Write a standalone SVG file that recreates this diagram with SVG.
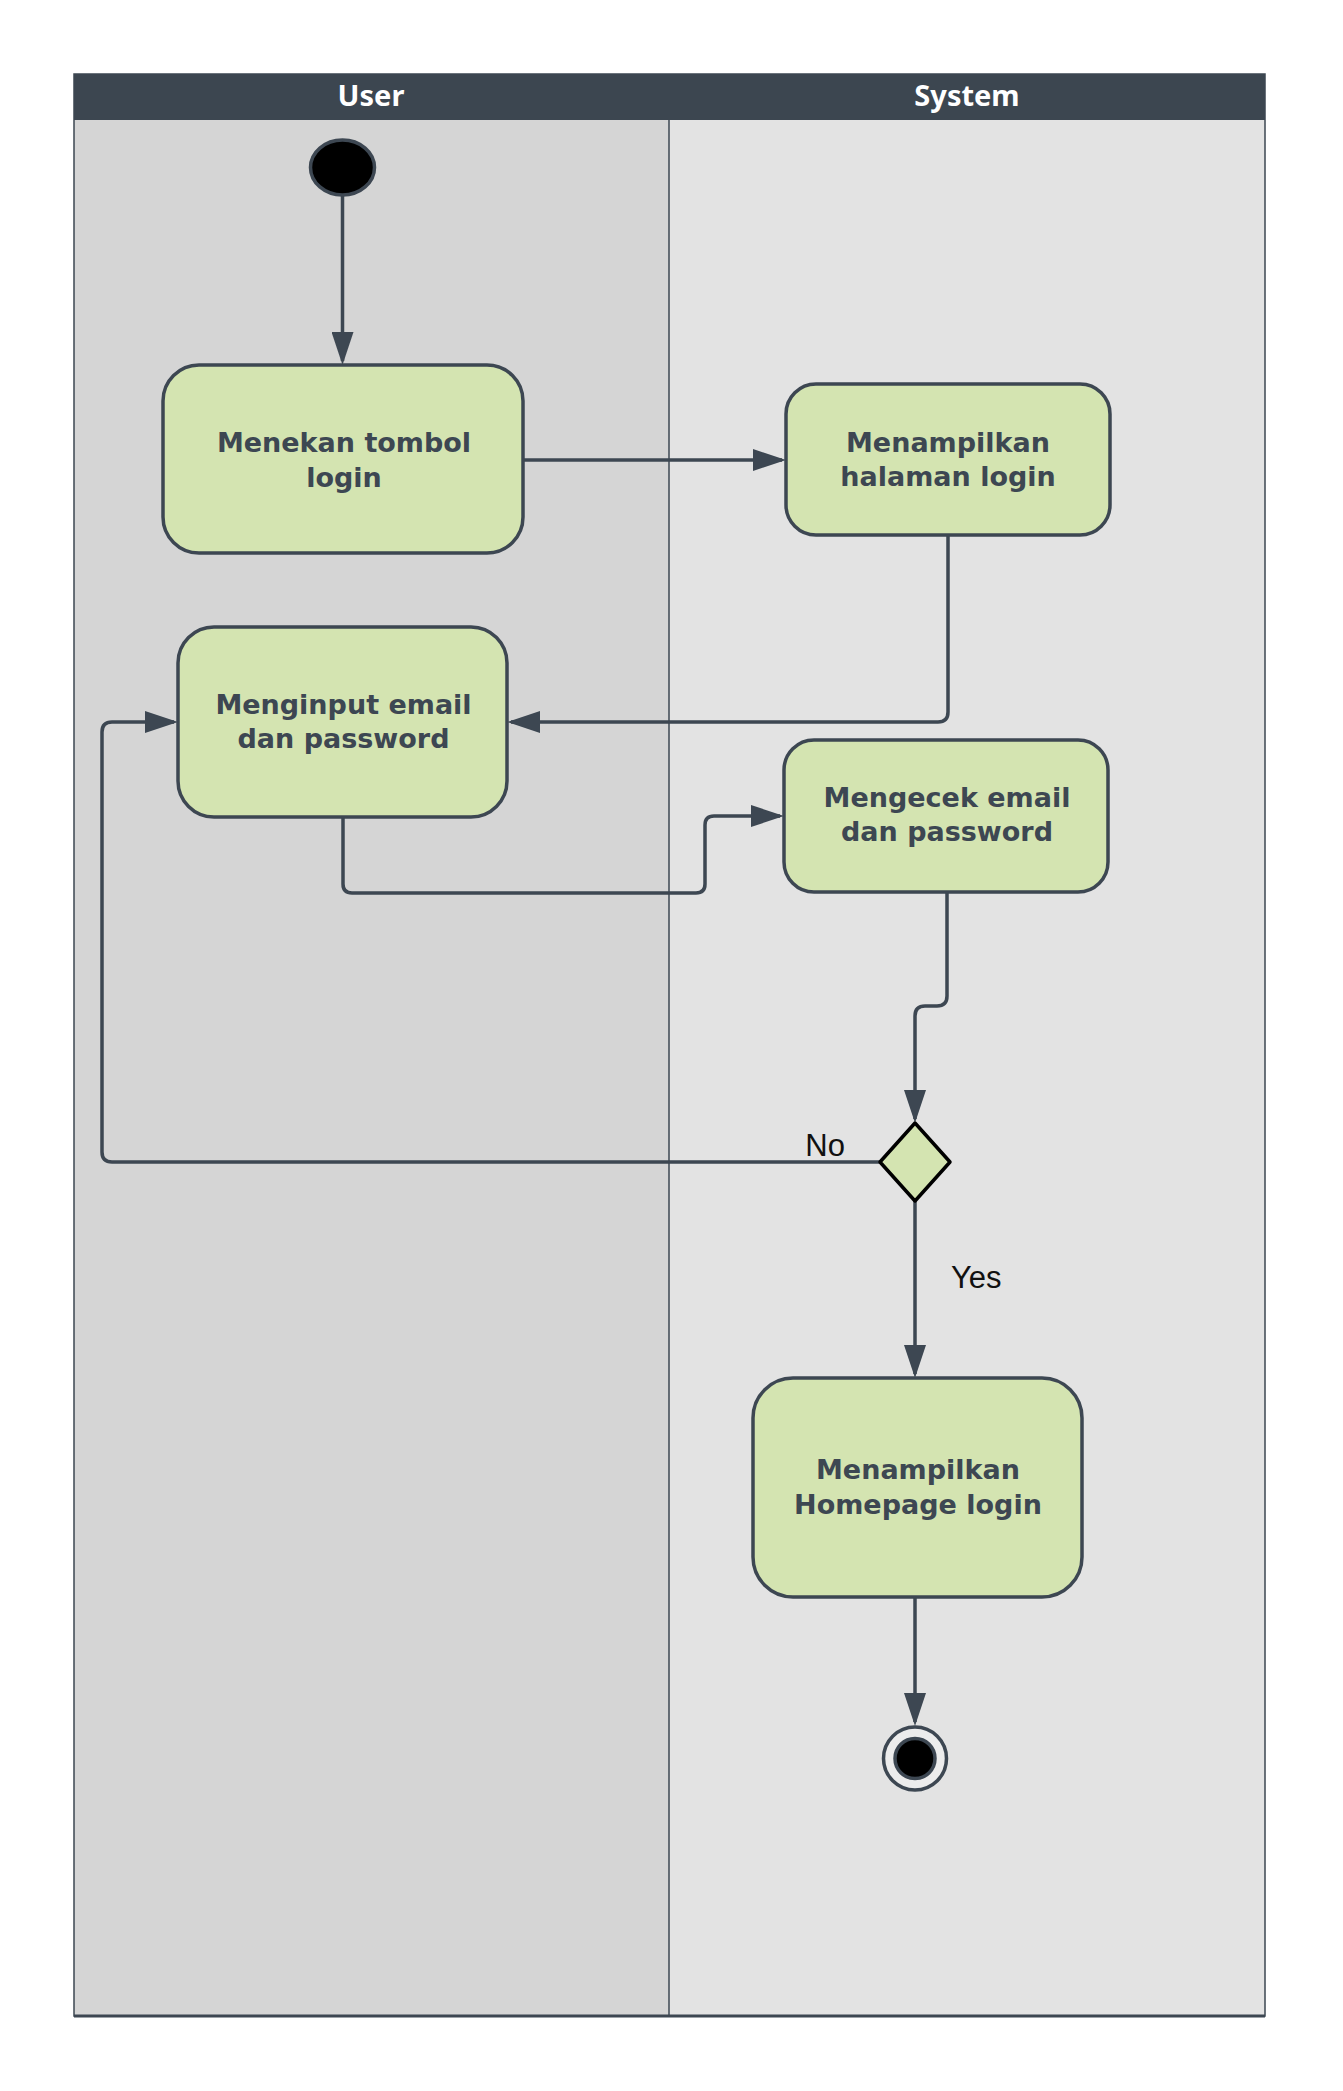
<svg xmlns="http://www.w3.org/2000/svg" width="1343" height="2091" viewBox="0 0 1343 2091">
<style>
.lane-title{font-family:"Noto Sans","Liberation Sans",sans-serif;font-weight:bold;font-size:29px;fill:#ffffff;text-anchor:middle}
.node rect{fill:#d4e4b1;stroke:#3d4752;stroke-width:3.5}
.node text{font-family:"DejaVu Sans","Noto Sans",sans-serif;font-weight:bold;font-size:27px;fill:#3d4752;text-anchor:middle}
.conn{fill:none;stroke:#3d4752;stroke-width:3.5;stroke-linejoin:round}
.lbl{font-family:"Liberation Sans",Arial,sans-serif;font-size:31px;fill:#111111}
</style>
<defs>
<marker id="arr" markerWidth="34" markerHeight="22" refX="29" refY="11" orient="auto" markerUnits="userSpaceOnUse">
<path d="M0,0 L33,11 L0,22 z" fill="#3d4752"/>
</marker>
</defs>
<rect width="1343" height="2091" fill="#ffffff"/>
<g id="swimlanes">
<rect x="74" y="120" width="595" height="1896" fill="#d5d5d5"/>
<rect x="669" y="120" width="596" height="1896" fill="#e3e3e3"/>
<rect x="74" y="74" width="1191" height="46" fill="#3c4650"/>
<line x1="669" y1="120" x2="669" y2="2016" stroke="#3d4752" stroke-width="1.5"/>
<rect x="74" y="74" width="1191" height="1942" fill="none" stroke="#3d4752" stroke-width="1.5"/>
<line x1="74" y1="2016" x2="1265" y2="2016" stroke="#3d4752" stroke-width="3"/>
<text class="lane-title" x="371" y="106">User</text>
<text class="lane-title" x="967" y="106">System</text>
</g>
<g id="connectors">
<path class="conn" d="M342.5,196 V361" marker-end="url(#arr)"/>
<path class="conn" d="M523,460 H782" marker-end="url(#arr)"/>
<path class="conn" d="M948,535 V712 Q948,722 938,722 H511" marker-end="url(#arr)"/>
<path class="conn" d="M343,817 V884 Q343,893 352,893 H696 Q705,893 705,884 V825 Q705,816 714,816 H780" marker-end="url(#arr)"/>
<path class="conn" d="M947,892 V996 Q947,1006 937,1006 H925 Q915,1006 915,1016 V1119" marker-end="url(#arr)"/>
<path class="conn" d="M880,1162 H112 Q102,1162 102,1152 V732 Q102,722 112,722 H174" marker-end="url(#arr)"/>
<path class="conn" d="M915,1201 V1374" marker-end="url(#arr)"/>
<path class="conn" d="M915,1597 V1722" marker-end="url(#arr)"/>
<text class="lbl" x="845" y="1156" text-anchor="end">No</text>
<text class="lbl" x="951" y="1288">Yes</text>
</g>
<g id="start">
<ellipse cx="342.5" cy="167.5" rx="32" ry="27.5" fill="#000000" stroke="#3d4752" stroke-width="3.5"/>
</g>
<g id="n1" class="node">
<rect x="163" y="365" width="360" height="188" rx="36"/>
<text x="344" y="452">Menekan tombol</text>
<text x="344" y="487">login</text>
</g>
<g id="n2" class="node">
<rect x="786" y="384" width="324" height="151" rx="30"/>
<text x="948" y="452">Menampilkan</text>
<text x="948" y="486">halaman login</text>
</g>
<g id="n3" class="node">
<rect x="178" y="627" width="329" height="190" rx="36"/>
<text x="343.5" y="714">Menginput email</text>
<text x="343.5" y="748">dan password</text>
</g>
<g id="n4" class="node">
<rect x="784" y="740" width="324" height="152" rx="30"/>
<text x="947" y="807">Mengecek email</text>
<text x="947" y="841">dan password</text>
</g>
<g id="decision">
<path d="M915,1123 L950,1162 L915,1201 L880,1162 Z" fill="#d4e4b1" stroke="#000000" stroke-width="3.5" stroke-linejoin="round"/>
</g>
<g id="n5" class="node">
<rect x="753" y="1378" width="329" height="219" rx="40"/>
<text x="918" y="1479">Menampilkan</text>
<text x="918" y="1514">Homepage login</text>
</g>
<g id="end">
<circle cx="915" cy="1758.5" r="31.5" fill="#ececec" stroke="#3d4752" stroke-width="3.5"/>
<circle cx="915" cy="1758.5" r="20" fill="#000000" stroke="#3d4752" stroke-width="3.5"/>
</g>
</svg>
